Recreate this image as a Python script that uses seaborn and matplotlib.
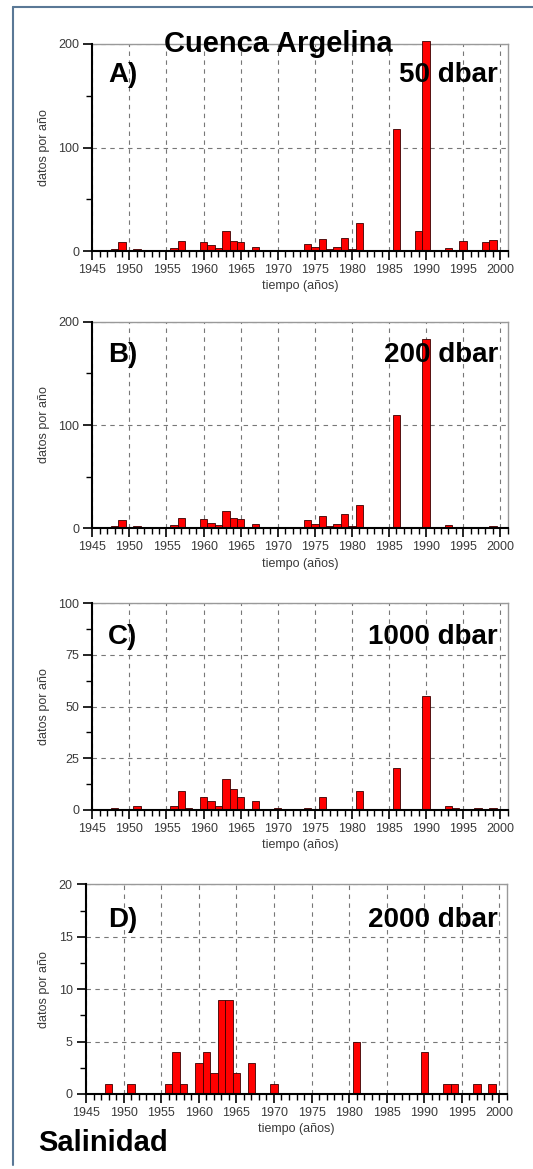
import matplotlib
matplotlib.use("Agg")
import matplotlib.pyplot as plt
import seaborn as sns
import numpy as np
from matplotlib.lines import Line2D
from matplotlib.ticker import MultipleLocator

# ---------------- data ----------------
years_A = [1948, 1949, 1951, 1956, 1957, 1960, 1961, 1962, 1963, 1964, 1965, 1967, 1970, 1972,
           1974, 1975, 1976, 1977, 1978, 1979, 1980, 1981, 1986, 1989, 1990, 1993, 1995, 1998, 1999]
vals_A = [2, 9, 2, 3, 10, 9, 6, 3, 19, 10, 9, 4, 1, 1,
          7, 4, 12, 2, 4, 13, 2, 27, 118, 19, 203, 3, 10, 9, 11]

years_B = [1948, 1949, 1951, 1956, 1957, 1958, 1960, 1961, 1962, 1963, 1964, 1965, 1967, 1970, 1972,
           1974, 1975, 1976, 1977, 1978, 1979, 1980, 1981, 1984, 1986, 1987, 1989, 1990, 1993, 1994, 1997, 1999]
vals_B = [2, 8, 2, 3, 10, 1, 9, 5, 3, 17, 10, 9, 4, 1, 1,
          8, 4, 12, 2, 4, 14, 2, 23, 1, 110, 1, 1, 183, 3, 1, 1, 2]

years_C = [1948, 1951, 1956, 1957, 1958, 1960, 1961, 1962, 1963, 1964, 1965, 1967, 1970,
           1974, 1976, 1981, 1986, 1990, 1993, 1994, 1997, 1999]
vals_C = [1, 2, 2, 9, 1, 6, 4, 2, 15, 10, 6, 4, 1,
          1, 6, 9, 20, 55, 2, 1, 1, 1]

years_D = [1948, 1951, 1956, 1957, 1958, 1960, 1961, 1962, 1963, 1964, 1965, 1967, 1970,
           1981, 1990, 1993, 1994, 1997, 1999]
vals_D = [1, 1, 1, 4, 1, 3, 4, 2, 9, 9, 2, 3, 1,
          5, 4, 1, 1, 1, 1]

panel_letters = ["A)", "B)", "C)", "D)"]
panel_depths = ["50 dbar", "200 dbar", "1000 dbar", "2000 dbar"]
ymax = [200, 200, 100, 20]
ymajor = [100, 100, 25, 5]
xticks = list(range(1945, 2001, 5))

title = "Cuenca Argelina"
footer = "Salinidad"
xlabel = "tiempo (años)"
ylabel = "datos por año"

# ---------------- style ----------------
sns.set_style("white")
plt.rcParams["font.family"] = ["Liberation Sans", "DejaVu Sans"]

W, H = 533, 1169
fig = plt.figure(figsize=(W / 100, H / 100), dpi=100)
fig.patch.set_facecolor("white")

def fx(px):
    return px / W

def fy(py):
    return 1 - py / H

# axes rectangles in pixels: (left, top, right, bottom)
rects = [(92.3, 44, 507.7, 251),
         (92.3, 321.7, 507.7, 528.3),
         (92.3, 603.3, 507.7, 809.7),
         (86, 884.3, 507, 1094)]

datasets = [(years_A, vals_A), (years_B, vals_B), (years_C, vals_C), (years_D, vals_D)]
label_y = [75, 355, 637, 920]

for i, ((yrs, vals), (l, t, r, b)) in enumerate(zip(datasets, rects)):
    ax = fig.add_axes([fx(l), fy(b), fx(r) - fx(l), (b - t) / H])
    sns.barplot(x=yrs, y=vals, native_scale=True, width=1.0, color="#ff0000",
                saturation=1, edgecolor="#3a0000", linewidth=0.6, errorbar=None, ax=ax, zorder=3)
    for p in ax.patches:
        p.set_clip_on(False)
    ax.set_xlim(1945, 2001)
    ax.set_ylim(0, ymax[i])
    ax.set_xticks(xticks)
    ax.set_xticklabels([str(x) for x in xticks])
    ax.xaxis.set_minor_locator(MultipleLocator(1))
    ax.yaxis.set_major_locator(MultipleLocator(ymajor[i]))
    ax.yaxis.set_minor_locator(MultipleLocator(ymajor[i] / 2))
    ax.tick_params(axis="both", which="major", direction="out", length=6.5, width=1.2,
                   color="black", labelsize=9, labelcolor="#3a3a3a", pad=3,
                   bottom=True, left=True)
    ax.tick_params(axis="both", which="minor", direction="out", length=4, width=1.0,
                   color="black", bottom=True, left=True)
    ax.grid(True, which="major", linestyle=(0, (4, 4)), color="#777777", linewidth=0.8, zorder=0)
    ax.set_axisbelow(True)
    for side in ["left", "bottom"]:
        ax.spines[side].set_color("black")
        ax.spines[side].set_linewidth(1.5)
        ax.spines[side].set_zorder(5)
    for side in ["top", "right"]:
        ax.spines[side].set_color("#999999")
        ax.spines[side].set_linewidth(1.0)
    ax.set_xlabel(xlabel, fontsize=9, color="#3a3a3a", labelpad=3)
    ax.set_ylabel(ylabel, fontsize=9, color="#3a3a3a", labelpad=6)

    fig.text(fx(108), fy(label_y[i]), panel_letters[i], fontsize=20, fontweight="bold",
             ha="left", va="center", color="black", zorder=10)
    fig.text(fx(498), fy(label_y[i]), panel_depths[i], fontsize=20, fontweight="bold",
             ha="right", va="center", color="black", zorder=10)

fig.text(fx(278), fy(44), title, fontsize=21, fontweight="bold", ha="center", va="center",
         color="black", zorder=10)
fig.text(fx(38), fy(1143), footer, fontsize=21, fontweight="bold", ha="left", va="center",
         color="black")

# outer frame
frame_color = "#5a7896"
fig.add_artist(Line2D([fx(12.5), fx(12.5)], [fy(6.5), fy(1165)], color=frame_color, linewidth=1.5))
fig.add_artist(Line2D([fx(12.5), fx(533)], [fy(6.5), fy(6.5)], color=frame_color, linewidth=1.5))

fig.savefig("out.png", dpi=100)
